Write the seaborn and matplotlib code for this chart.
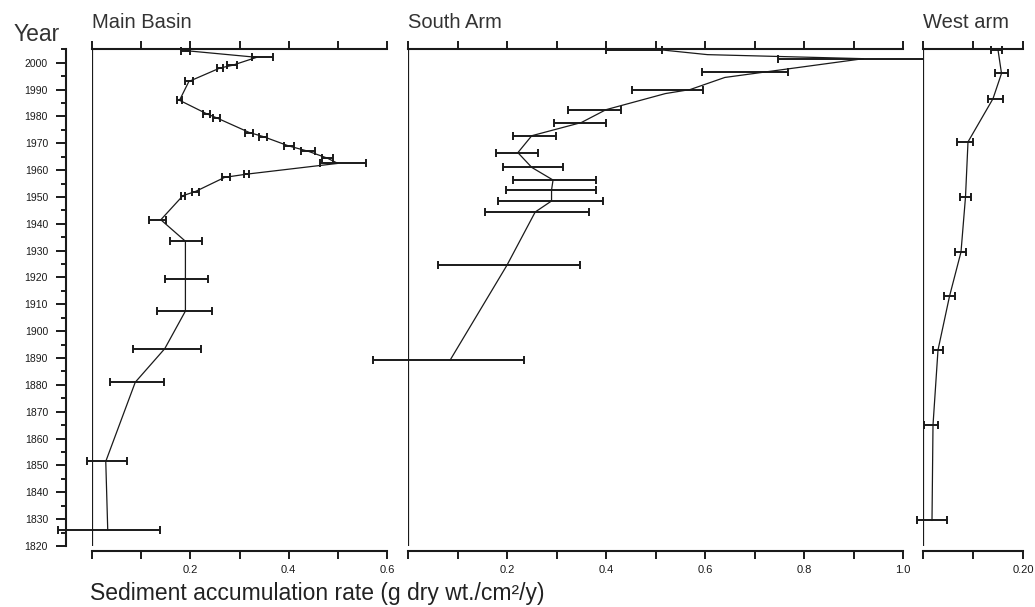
import numpy as np
import matplotlib
matplotlib.use('Agg')
import matplotlib.pyplot as plt
import seaborn as sns

# Main Basin: year, rate, lower/upper bound of the error bar
years_main = [2004.5, 2002.0, 1999.0, 1998.0, 1993.0, 1986.0, 1981.0, 1979.5, 1974.0, 1972.5,
              1969.0, 1967.0, 1964.5, 1962.5, 1958.5, 1957.3, 1952.0, 1950.5, 1941.5, 1933.5,
              1919.5, 1907.5, 1893.5, 1881.0, 1851.5, 1826.0]
rate_main = [0.19, 0.335, 0.285, 0.26, 0.197, 0.178, 0.233, 0.253, 0.32, 0.348,
             0.40, 0.44, 0.478, 0.50, 0.315, 0.27, 0.21, 0.185, 0.14, 0.19,
             0.19, 0.19, 0.148, 0.088, 0.028, 0.032]
lo_main = [0.18, 0.325, 0.275, 0.254, 0.19, 0.173, 0.226, 0.246, 0.311, 0.34,
           0.39, 0.426, 0.467, 0.463, 0.31, 0.264, 0.203, 0.18, 0.116, 0.158,
           0.148, 0.132, 0.083, 0.037, -0.01, -0.07]
hi_main = [0.20, 0.368, 0.295, 0.266, 0.205, 0.183, 0.24, 0.26, 0.327, 0.356,
           0.41, 0.453, 0.49, 0.558, 0.32, 0.28, 0.217, 0.19, 0.15, 0.223,
           0.236, 0.245, 0.222, 0.146, 0.071, 0.138]

# South Arm (nan = no error bar at that point)
years_south = [2004.8, 2003.0, 2001.5, 1996.5, 1994.5, 1990.0, 1988.5, 1982.5, 1977.7, 1972.8,
               1966.5, 1961.0, 1956.3, 1952.6, 1948.5, 1944.4, 1924.6, 1889.2]
rate_south = [0.51, 0.605, 0.92, 0.72, 0.64, 0.57, 0.52, 0.40, 0.35, 0.25,
              0.222, 0.25, 0.293, 0.29, 0.29, 0.257, 0.20, 0.085]
lo_south = [0.40, np.nan, 0.747, 0.594, np.nan, 0.453, np.nan, 0.323, 0.295, 0.212,
            0.178, 0.192, 0.212, 0.198, 0.182, 0.156, 0.061, -0.07]
hi_south = [0.513, np.nan, 1.115, 0.768, np.nan, 0.596, np.nan, 0.43, 0.40, 0.299,
            0.263, 0.313, 0.38, 0.38, 0.394, 0.366, 0.348, 0.234]

# West arm
years_west = [2004.8, 1996.0, 1986.6, 1970.5, 1950.0, 1929.5, 1913.0, 1893.0, 1865.0, 1829.5]
rate_west = [0.15, 0.157, 0.14, 0.09, 0.085, 0.076, 0.053, 0.03, 0.02, 0.018]
lo_west = [0.136, 0.144, 0.13, 0.068, 0.074, 0.064, 0.042, 0.02, 0.002, -0.012]
hi_west = [0.158, 0.17, 0.16, 0.10, 0.096, 0.086, 0.064, 0.04, 0.03, 0.048]

main_labels = ['', '', '0.2', '', '0.4', '', '0.6']
south_labels = ['', '', '0.2', '', '0.4', '', '0.6', '', '0.8', '', '1.0']
west_labels = ['', '', '0.20']

W, H = 1035, 607
INK = '#1a1a1a'
PX = 0.72  # points per pixel at dpi 100


def draw_panel(fig, left_px, width_px, years, rate, lo, hi, xmax, labels, title):
    ax = fig.add_axes([left_px / W, 1 - 546 / H, width_px / W, (546 - 49) / H])
    sns.lineplot(x=rate, y=years, sort=False, estimator=None, color=INK, lw=0.9, ax=ax)

    y = np.array(years)
    v = np.array(rate)
    l = np.array(lo)
    h = np.array(hi)
    m = ~np.isnan(l)
    eb = ax.errorbar(v[m], y[m], xerr=[v[m] - l[m], h[m] - v[m]], fmt='none',
                     ecolor=INK, elinewidth=1.4, capsize=3, capthick=1.4)
    for art in eb.get_children():
        art.set_clip_on(False)

    ax.axvline(0, color=INK, lw=1.6)
    ax.set_xlim(0, xmax)
    ax.set_ylim(1820, 2005.1)
    ax.set_xticks(np.linspace(0, xmax, len(labels)))
    ax.set_xticklabels(labels)
    ax.tick_params(axis='x', top=True, bottom=True, direction='out', length=8 * PX,
                   width=1.4, labelsize=8, pad=6 * PX, colors=INK)
    ax.spines['bottom'].set_position(('outward', 5 * PX))
    for s in ['top', 'bottom']:
        ax.spines[s].set_linewidth(1.5)
        ax.spines[s].set_color(INK)
    ax.spines['right'].set_visible(False)
    ax.set_xlabel('')
    ax.set_ylabel('')
    fig.text(left_px / W, 1 - 28 / H, title, fontsize=14.5, color='#333333', va='baseline')
    return ax


def main():
    sns.set_style('ticks')
    plt.rcParams['font.family'] = ['Liberation Sans', 'DejaVu Sans']

    fig = plt.figure(figsize=(W / 100, H / 100), dpi=100)

    ax_m = draw_panel(fig, 92, 295, years_main, rate_main, lo_main, hi_main, 0.6, main_labels, 'Main Basin')
    ax_s = draw_panel(fig, 408, 495, years_south, rate_south, lo_south, hi_south, 1.0, south_labels, 'South Arm')
    ax_w = draw_panel(fig, 923, 100, years_west, rate_west, lo_west, hi_west, 0.2, west_labels, 'West arm')

    # year axis lives on the main panel, pushed out to the left
    ax_m.spines['left'].set_position(('outward', 26 * PX))
    ax_m.spines['left'].set_bounds(1820, 2005)
    ax_m.spines['left'].set_linewidth(1.5)
    ax_m.spines['left'].set_color(INK)
    ax_m.set_yticks(np.arange(1820, 2001, 10))
    ax_m.set_yticks(np.arange(1825, 2006, 5), minor=True)
    ax_m.tick_params(axis='y', which='major', length=10 * PX, width=1.4, labelsize=7.5,
                     pad=8 * PX, colors=INK)
    ax_m.tick_params(axis='y', which='minor', length=5 * PX, width=1.4, colors=INK)

    for ax in [ax_s, ax_w]:
        ax.spines['left'].set_visible(False)
        ax.set_yticks([])

    fig.text(14 / W, 1 - 41 / H, 'Year', fontsize=16.5, color='#333333', va='baseline')
    fig.text(90 / W, 1 - 600 / H, 'Sediment accumulation rate (g dry wt./cm²/y)',
             fontsize=16.5, color='#222222', va='baseline')

    fig.savefig('out.png', dpi=100)
    plt.close(fig)


if __name__ == "__main__":
    main()
